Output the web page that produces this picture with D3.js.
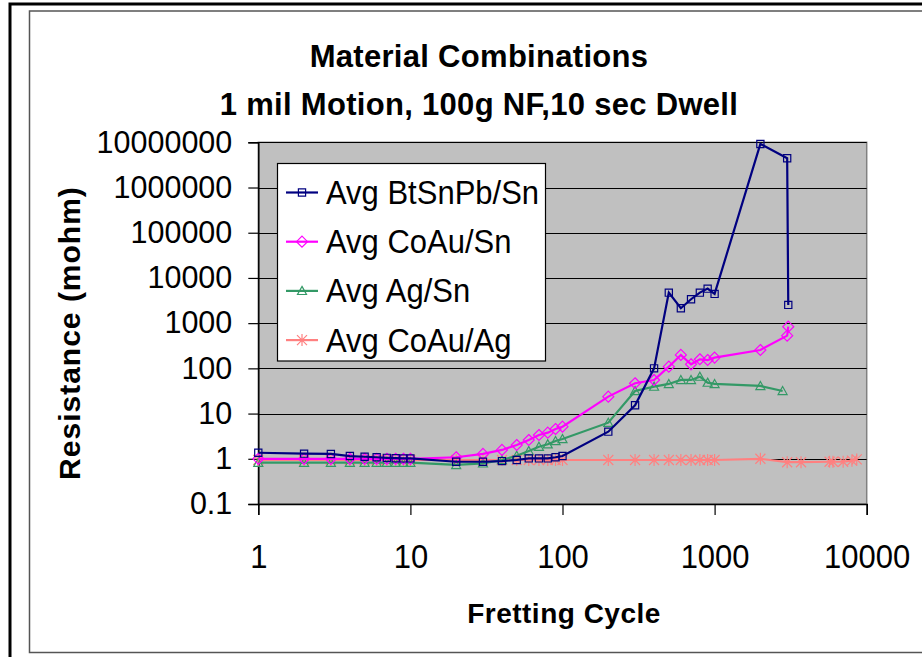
<!DOCTYPE html>
<html>
<head>
<meta charset="utf-8">
<script src="https://cdn.jsdelivr.net/npm/d3@7"></script>
<style>
	body { margin: 0; background: #ffffff; }
	text { font-family: "Liberation Sans", Arial, sans-serif; fill: #000; }
</style>
</head>
<body>
<script>
//chart data
var baseCycles = [1, 2, 3, 4, 5, 6, 7, 8, 9, 10, 20, 30, 40, 50, 60, 70, 80, 90, 100,
	200, 300, 400, 500, 600, 700, 800, 900, 1000, 2000];

var btsnpbCycles = baseCycles.concat([3000, 3050]);
var btsnpbValues = [1.36, 1.3, 1.28, 1.15, 1.11, 1.08, 1.05, 1.03, 1.02, 1.02,
	0.86, 0.86, 0.89, 0.94, 1.02, 1.02, 1.02, 1.08, 1.15,
	3.98, 15.3, 100, 4730, 2140, 3380, 4730, 5800, 4430, 9200000, 4450000, 2530];

var coausnCycles = baseCycles.concat([3000, 3050]);
var coausnValues = [1, 1, 1, 1, 1, 1, 1, 1, 1, 1,
	1.08, 1.28, 1.57, 2.02, 2.6, 3.36, 3.78, 4.56, 5.13,
	23.7, 46.8, 55.4, 109, 198, 123, 159, 153, 173, 255, 529, 837];

var agsnCycles = baseCycles.concat([2800]);
var agsnValues = [0.82, 0.82, 0.82, 0.82, 0.82, 0.82, 0.82, 0.82, 0.82, 0.82,
	0.73, 0.79, 0.94, 1.17, 1.49, 1.85, 2.09, 2.48, 2.74,
	6.29, 31.6, 39.4, 45.2, 55.4, 55.4, 65.5, 48.3, 45.2, 40.8, 31.6];

var coauagCycles = baseCycles.concat([3000, 3700, 5700, 6000, 7000, 8000, 8600]);
var coauagValues = [0.94, 0.94, 0.94, 0.94, 0.94, 0.94, 0.94, 0.94, 0.94, 0.94,
	0.94, 0.94, 0.94, 0.94, 0.94, 0.94, 0.94, 0.94, 0.94,
	0.94, 0.94, 0.94, 0.94, 0.94, 0.94, 0.94, 0.94, 0.94, 1.0,
	0.84, 0.84, 0.86, 0.86, 0.86, 0.91, 0.97];

var seriesNames = ["Avg BtSnPb/Sn", "Avg CoAu/Sn", "Avg Ag/Sn", "Avg CoAu/Ag"];
var seriesColors = ["#000080", "#ff00ff", "#339966", "#ff8080"];
var seriesMarkers = ["square", "diamond", "triangle", "star"];

var xTicks = [1, 10, 100, 1000, 10000];
var xTickLabels = ["1", "10", "100", "1000", "10000"];
var yTicks = [0.1, 1, 10, 100, 1000, 10000, 100000, 1000000, 10000000];
var yTickLabels = ["0.1", "1", "10", "100", "1000", "10000", "100000", "1000000", "10000000"];

var titleLines = ["Material Combinations", "1 mil Motion, 100g NF,10 sec Dwell"];

window.onload = function(){

	var w = 922, h = 657;

	var svg = d3.select("body")
		.append("svg")
		.attr("width", w)
		.attr("height", h);

	//outer frames
	svg.append("rect")
		.attr("x", 10).attr("y", 4)
		.attr("width", 940).attr("height", 680)
		.style("fill", "none")
		.style("stroke", "#000")
		.style("stroke-width", 3);

	svg.append("rect")
		.attr("x", 29.5).attr("y", 11)
		.attr("width", 920).attr("height", 641.5)
		.style("fill", "#fff")
		.style("stroke", "#555")
		.style("stroke-width", 1.5);

	var plot = {left: 258.3, right: 866.7, top: 142.3, bottom: 504};

	var x = d3.scaleLog()
		.domain([1, 10000])
		.range([plot.left, plot.right]);

	var y = d3.scaleLog()
		.domain([0.1, 10000000])
		.range([plot.bottom, plot.top]);

	//grey plot area
	svg.append("rect")
		.attr("x", plot.left)
		.attr("y", plot.top)
		.attr("width", plot.right - plot.left)
		.attr("height", plot.bottom - plot.top)
		.style("fill", "#c0c0c0")
		.style("stroke", "#808080")
		.style("stroke-width", 1.5);

	//horizontal gridlines
	svg.selectAll(".grid")
		.data(yTicks.slice(1))
		.enter()
		.append("line")
		.attr("class", "grid")
		.attr("x1", plot.left)
		.attr("x2", plot.right)
		.attr("y1", function(d){ return Math.round(y(d)) + 0.5; })
		.attr("y2", function(d){ return Math.round(y(d)) + 0.5; })
		.style("stroke", "#000")
		.style("stroke-width", 1);

	//axes
	var yAxis = d3.axisLeft(y)
		.tickValues(yTicks)
		.tickSize(10)
		.tickPadding(16)
		.tickFormat(function(d, i){ return yTickLabels[i]; });

	var yG = svg.append("g")
		.attr("transform", "translate(" + plot.left + ",0)")
		.call(yAxis);

	var xAxis = d3.axisBottom(x)
		.tickValues(xTicks)
		.tickSize(11)
		.tickPadding(31)
		.tickFormat(function(d, i){ return xTickLabels[i]; });

	var xG = svg.append("g")
		.attr("transform", "translate(0," + plot.bottom + ")")
		.call(xAxis);

	[yG, xG].forEach(function(g){
		g.select(".domain").style("stroke", "#000").style("stroke-width", 1.5);
		g.selectAll(".tick line").style("stroke", "#000").style("stroke-width", 1.2);
		g.selectAll(".tick text")
			.style("font-family", "'Liberation Sans', Arial, sans-serif")
			.style("font-size", "31px")
			.style("fill", "#000");
	});
	yG.selectAll(".tick text").style("font-size", "30.5px");

	//x labels in the picture are a little stretched upward
	xG.selectAll(".tick text")
		.attr("y", 0)
		.attr("dy", 0)
		.attr("transform", "translate(0,64) scale(1,1.1)");

	//marker shapes
	function markerPath(type, s){
		if (type == "square") return "M" + (-s) + "," + (-s) + "h" + (2 * s) + "v" + (2 * s) + "h" + (-2 * s) + "Z";
		if (type == "diamond") return "M0," + (-s) + "L" + s + ",0L0," + s + "L" + (-s) + ",0Z";
		if (type == "triangle") return "M0," + (-s) + "L" + s + "," + (s * 0.8) + "L" + (-s) + "," + (s * 0.8) + "Z";
		//asterisk: x plus vertical bar
		return "M" + (-s) + "," + (-s) + "L" + s + "," + s + "M" + s + "," + (-s) + "L" + (-s) + "," + s + "M0," + (-s * 1.2) + "L0," + (s * 1.2);
	}
	var markerSize = [3.6, 5.5, 4.5, 5];

	var allSeries = [
		{cycles: btsnpbCycles, values: btsnpbValues},
		{cycles: coausnCycles, values: coausnValues},
		{cycles: agsnCycles, values: agsnValues},
		{cycles: coauagCycles, values: coauagValues}
	];

	var line = d3.line()
		.x(function(d){ return x(d[0]); })
		.y(function(d){ return y(d[1]); });

	//draw from last to first so the navy series sits on top
	for (var k = allSeries.length - 1; k >= 0; k--){
		var pts = d3.zip(allSeries[k].cycles, allSeries[k].values);
		var col = seriesColors[k];

		svg.append("path")
			.datum(pts)
			.attr("d", line)
			.style("fill", "none")
			.style("stroke", col)
			.style("stroke-width", 2.2);

		svg.selectAll(".m" + k)
			.data(pts)
			.enter()
			.append("path")
			.attr("class", "m" + k)
			.attr("transform", function(d){ return "translate(" + x(d[0]) + "," + y(d[1]) + ")"; })
			.attr("d", markerPath(seriesMarkers[k], markerSize[k]))
			.style("fill", "none")
			.style("stroke", col)
			.style("stroke-width", 1.2);
	}

	//legend
	var legend = svg.append("g").attr("class", "legend");

	legend.append("rect")
		.attr("x", 277.5).attr("y", 163.5)
		.attr("width", 268).attr("height", 197.5)
		.style("fill", "#fff")
		.style("stroke", "#000")
		.style("stroke-width", 1.2);

	var rows = legend.selectAll(".row")
		.data(seriesNames)
		.enter()
		.append("g")
		.attr("class", "row")
		.attr("transform", function(d, i){ return "translate(0," + (204 + i * 49.2) + ")"; });

	rows.append("line")
		.attr("x1", 286).attr("x2", 318)
		.attr("y1", -11.5).attr("y2", -11.5)
		.style("stroke", function(d, i){ return seriesColors[i]; })
		.style("stroke-width", 2.2);

	rows.append("path")
		.attr("transform", "translate(302,-11.5)")
		.attr("d", function(d, i){ return markerPath(seriesMarkers[i], markerSize[i]); })
		.style("fill", "none")
		.style("stroke", function(d, i){ return seriesColors[i]; })
		.style("stroke-width", 1.2);

	rows.append("text")
		.attr("transform", "translate(326,0) scale(1,1.1)")
		.style("font-size", "31px")
		.text(function(d){ return d; });

	//title
	svg.selectAll(".title")
		.data(titleLines)
		.enter()
		.append("text")
		.attr("class", "title")
		.attr("text-anchor", "middle")
		.attr("x", 479)
		.attr("y", function(d, i){ return 67 + i * 48; })
		.style("font-size", "31px")
		.style("font-weight", "bold")
		.style("letter-spacing", "0.3px")
		.text(function(d){ return d; });

	//axis titles
	svg.append("text")
		.attr("text-anchor", "middle")
		.attr("x", 564)
		.attr("y", 623)
		.style("font-size", "28px")
		.style("font-weight", "bold")
		.style("letter-spacing", "0.5px")
		.text("Fretting Cycle");

	svg.append("text")
		.attr("text-anchor", "middle")
		.attr("transform", "translate(80,333) rotate(-90)")
		.style("font-size", "30px")
		.style("font-weight", "bold")
		.style("letter-spacing", "1px")
		.text("Resistance (mohm)");
};
</script>
</body>
</html>
